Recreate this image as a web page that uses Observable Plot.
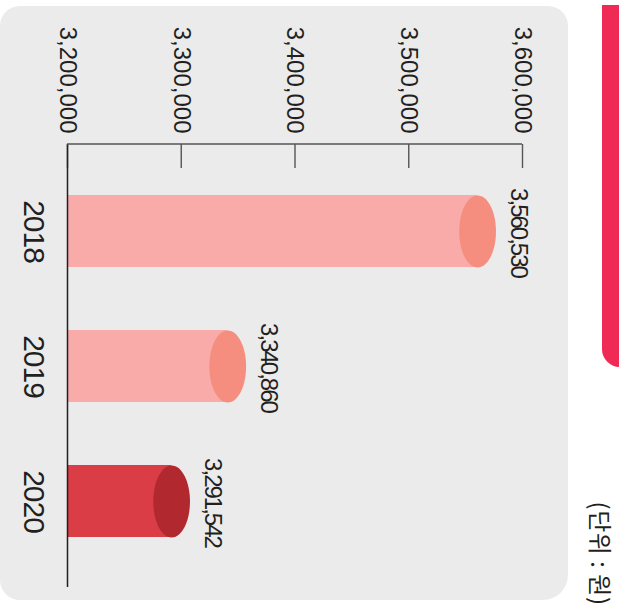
<!DOCTYPE html>
<html>
<head>
<meta charset="utf-8">
<script src="https://cdn.jsdelivr.net/npm/d3@7"></script>
<script src="https://cdn.jsdelivr.net/npm/@observablehq/plot@0.6"></script>
<style>
  html, body { margin: 0; padding: 0; background: #fff; }
  #wrap { position: relative; width: 619px; height: 609px; overflow: hidden; }
  #panel { position: absolute; left: 0; top: 6px; width: 568px; height: 594px; background: #EBEBEB;
           border-radius: 20px 20px 25px 20px; }
  #strip { position: absolute; left: 602px; top: 5px; width: 20px; height: 362px; background: #EE2A55;
           border-radius: 0 0 0 18px; }
  #chart { position: absolute; left: 0; top: 0; }
</style>
</head>
<body>
<div id="wrap">
  <div id="panel"></div>
  <div id="strip"></div>
  <div id="chart"></div>
</div>
<script>
// ---- data ----
const years = ["2018", "2019", "2020"];
const values = [3560530, 3340860, 3291542];
const xTicks = [3200000, 3300000, 3400000, 3500000, 3600000];
const unitLabel = "(단위 : 원)";

const data = years.map((year, i) => ({year, value: values[i]}));
const latest = years[years.length - 1];
const fmt = d3.format(",");

// elliptical cap symbol (rx ≈ half of ry)
const ellipse = {
  draw(context, size) {
    const ry = Math.sqrt(size / Math.PI), rx = ry * 0.51, k = 0.5523;
    context.moveTo(rx, 0);
    context.bezierCurveTo(rx, k * ry, k * rx, ry, 0, ry);
    context.bezierCurveTo(-k * rx, ry, -rx, k * ry, -rx, 0);
    context.bezierCurveTo(-rx, -k * ry, -k * rx, -ry, 0, -ry);
    context.bezierCurveTo(k * rx, -ry, rx, -k * ry, rx, 0);
    context.closePath();
  }
};

const topAxisLine = (index, scales, values, dims) => {
  const x0 = scales.x(xTicks[0]), x1 = scales.x(xTicks[xTicks.length - 1]);
  return d3.create("svg:line")
    .attr("x1", x0).attr("x2", x1)
    .attr("y1", dims.marginTop).attr("y2", dims.marginTop)
    .attr("stroke", "#555").attr("stroke-width", 1.4).node();
};

const plot = Plot.plot({
  width: 619,
  height: 609,
  marginLeft: 67,
  marginRight: 97,
  marginTop: 144,
  marginBottom: 22,
  style: {background: "transparent", fontFamily: "'Liberation Sans', Arial, sans-serif", color: "#231F20"},
  x: {domain: [xTicks[0], xTicks[xTicks.length - 1]], axis: null},
  y: {domain: years, axis: null, paddingInner: 0.47, paddingOuter: 0.364},
  marks: [
    // tick marks (inward from top axis)
    Plot.ruleX(xTicks, {x: d => d, insetBottom: 419, stroke: "#555", strokeWidth: 1.4}),
    // bars
    Plot.barX(data, {
      y: "year", x1: xTicks[0], x2: "value",
      fill: d => d.year === latest ? "#DA3D46" : "#F8ABA8"
    }),
    Plot.dot(data, {
      x: "value", y: "year", r: 36, symbol: ellipse,
      fill: d => d.year === latest ? "#B1282F" : "#F58E7E", stroke: null
    }),
    // axis lines
    Plot.ruleX([xTicks[0]], {stroke: "#231F20", strokeWidth: 1.5}),
    topAxisLine,
    // tick labels
    Plot.text(xTicks, {
      x: d => d, frameAnchor: "top", dy: -11, rotate: 90, textAnchor: "end", lineAnchor: "middle",
      text: d => fmt(d), fontSize: 24, fill: "#231F20"
    }),
    // year labels
    Plot.text(years, {
      y: d => d, frameAnchor: "left", dx: -34, rotate: 90, textAnchor: "middle", lineAnchor: "middle",
      text: d => d, fontSize: 30, fill: "#231F20", ariaDescription: "years"
    }),
    // value labels
    Plot.text(data, {
      x: "value", y: "year", dx: 41, dy: 1, rotate: 90, textAnchor: "middle", lineAnchor: "middle",
      text: d => fmt(d.value), fontSize: 24, fill: "#231F20", ariaDescription: "values"
    }),
    // unit label
    Plot.text([unitLabel], {
      frameAnchor: "bottom-right", dx: 76, dy: 18, rotate: 90, textAnchor: "end", lineAnchor: "middle",
      text: d => d, fontSize: 24, fill: "#231F20", ariaDescription: "unit",
      fontFamily: "'Noto Sans CJK KR', sans-serif"
    })
  ]
});

d3.select(plot).selectAll("g[aria-description='values'] text").style("letter-spacing", "-2px");
d3.select(plot).selectAll("g[aria-description='years'] text").style("letter-spacing", "-1px");
d3.select(plot).selectAll("g[aria-description='unit'] text").style("letter-spacing", "0.5px");
document.getElementById("chart").appendChild(plot);
</script>
</body>
</html>
